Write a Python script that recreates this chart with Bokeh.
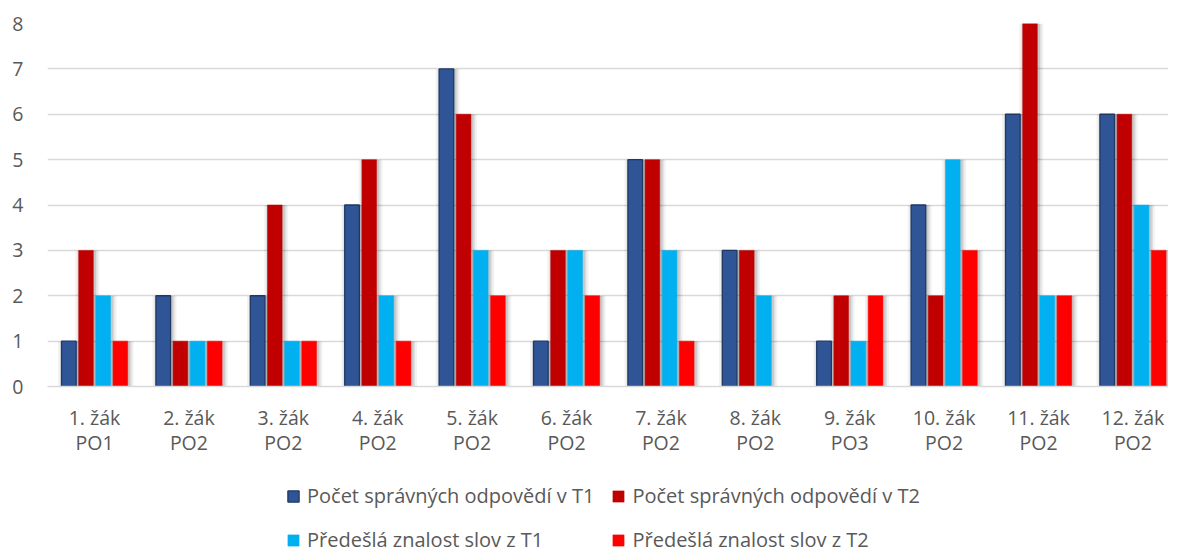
from bokeh.plotting import figure
from bokeh.layouts import column
from bokeh.models import ColumnDataSource, FixedTicker, Legend, LegendItem, Range1d
from bokeh.transform import dodge
from bokeh.embed import file_html
from bokeh.resources import INLINE

students = ["1. žák", "2. žák", "3. žák", "4. žák", "5. žák", "6. žák",
            "7. žák", "8. žák", "9. žák", "10. žák", "11. žák", "12. žák"]
groups = ["PO1", "PO2", "PO2", "PO2", "PO2", "PO2", "PO2", "PO2", "PO3", "PO2", "PO2", "PO2"]
correct_t1 = [1, 2, 2, 4, 7, 1, 5, 3, 1, 4, 6, 6]
correct_t2 = [3, 1, 4, 5, 6, 3, 5, 3, 2, 2, 8, 6]
prior_t1 = [2, 1, 1, 2, 3, 3, 3, 2, 1, 5, 2, 4]
prior_t2 = [1, 1, 1, 1, 2, 2, 1, 0, 2, 3, 2, 3]
series_names = ["Počet správných odpovědí v T1", "Počet správných odpovědí v T2",
                "Předešlá znalost slov z T1", "Předešlá znalost slov z T2"]
colors = ["#2F5597", "#C00000", "#00B0F0", "#FF0000"]
y_ticks = [0, 1, 2, 3, 4, 5, 6, 7, 8]

xs = list(range(1, len(students) + 1))
src = ColumnDataSource(dict(x=xs, s1=correct_t1, s2=correct_t2, s3=prior_t1, s4=prior_t2))

FONT = "Open Sans"
TXT = "#595959"
W = 1168

p = figure(width=W, height=470, output_backend="svg", toolbar_location=None,
           x_range=Range1d(0.502, 12.377), y_range=Range1d(0, 8),
           min_border_left=47, min_border_right=0, min_border_top=23, min_border_bottom=84)
p.outline_line_color = None
p.background_fill_color = "white"
p.border_fill_color = "white"

offsets = [-0.272, -0.09, 0.092, 0.274]
keys = ["s1", "s2", "s3", "s4"]
bw = 0.155

# soft shadows
for off, k in zip(offsets, keys):
    for extra, alpha in [(0.05, 0.05), (0.03, 0.07), (0.014, 0.1)]:
        p.vbar(x=dodge("x", off + 0.014, range=p.x_range), top=k, width=bw + 2 * extra,
               bottom=0, source=src, fill_color="black", fill_alpha=alpha, line_color=None)

renderers = []
for i, (off, k, c) in enumerate(zip(offsets, keys, colors)):
    r = p.vbar(x=dodge("x", off, range=p.x_range), top=k, width=bw, bottom=0, source=src,
               fill_color=c, line_color="#1F3864" if i == 0 else c,
               line_width=1.3 if i == 0 else 0.5)
    renderers.append(r)

# axes
p.xaxis.ticker = FixedTicker(ticks=xs)
p.xaxis.major_label_overrides = {x: f"{s}\n{g}" for x, s, g in zip(xs, students, groups)}
p.xaxis.axis_line_color = "#D9D9D9"
p.xaxis.axis_line_width = 1.5
p.xaxis.major_tick_line_color = None
p.xaxis.minor_tick_line_color = None
p.xaxis.major_tick_out = 0
p.xaxis.minor_tick_out = 0
p.xaxis.major_label_text_font = FONT
p.xaxis.major_label_text_font_size = "19.5px"
p.xaxis.major_label_text_color = TXT
p.xaxis.major_label_text_line_height = 0.95
p.xaxis.major_label_standoff = 17

p.yaxis.ticker = FixedTicker(ticks=y_ticks)
p.yaxis.axis_line_color = None
p.yaxis.major_tick_line_color = None
p.yaxis.minor_tick_line_color = None
p.yaxis.major_tick_out = 0
p.yaxis.minor_tick_out = 0
p.yaxis.major_label_text_font = FONT
p.yaxis.major_label_text_font_size = "19.5px"
p.yaxis.major_label_text_color = TXT
p.yaxis.major_label_standoff = 24

p.xgrid.grid_line_color = None
p.ygrid.ticker = FixedTicker(ticks=y_ticks)
p.ygrid.grid_line_color = "#D9D9D9"
p.ygrid.grid_line_width = 1.5

# legend panel below the chart (frames of a column are aligned, so x is relative to x=47)
lg = figure(width=W, height=84, output_backend="svg", toolbar_location=None,
            x_range=Range1d(0, 1), y_range=Range1d(0, 1),
            x_axis_location=None, y_axis_location=None,
            min_border_left=0, min_border_right=0, min_border_top=0, min_border_bottom=0)
lg.outline_line_color = None
lg.grid.grid_line_color = None
lg.background_fill_color = "white"
lg.border_fill_color = "white"

# legend swatches only (zero-size marks at the bottom edge)
swatch = ColumnDataSource(dict(x=[0.5], top=[0]))
leg_renderers = []
for i, c in enumerate(colors):
    r = lg.vbar(x="x", top="top", bottom=0, width=0.0001, source=swatch, fill_color=c,
                line_color="#1F3864" if i == 0 else c, line_width=1.3 if i == 0 else 0.5)
    leg_renderers.append(r)

items = [LegendItem(label=n, renderers=[r]) for n, r in zip(series_names, leg_renderers)]
legend = Legend(items=items, ncols=2, location=(239, 1), orientation="horizontal",
                label_text_font=FONT, label_text_font_size="20px", label_text_color=TXT,
                glyph_width=14, glyph_height=14, label_standoff=7, spacing=17,
                padding=0, margin=0, background_fill_alpha=0, border_line_color=None,
                label_height=20)
lg.add_layout(legend, "center")

open("out.html", "w").write(file_html(column(p, lg, spacing=0), INLINE))
